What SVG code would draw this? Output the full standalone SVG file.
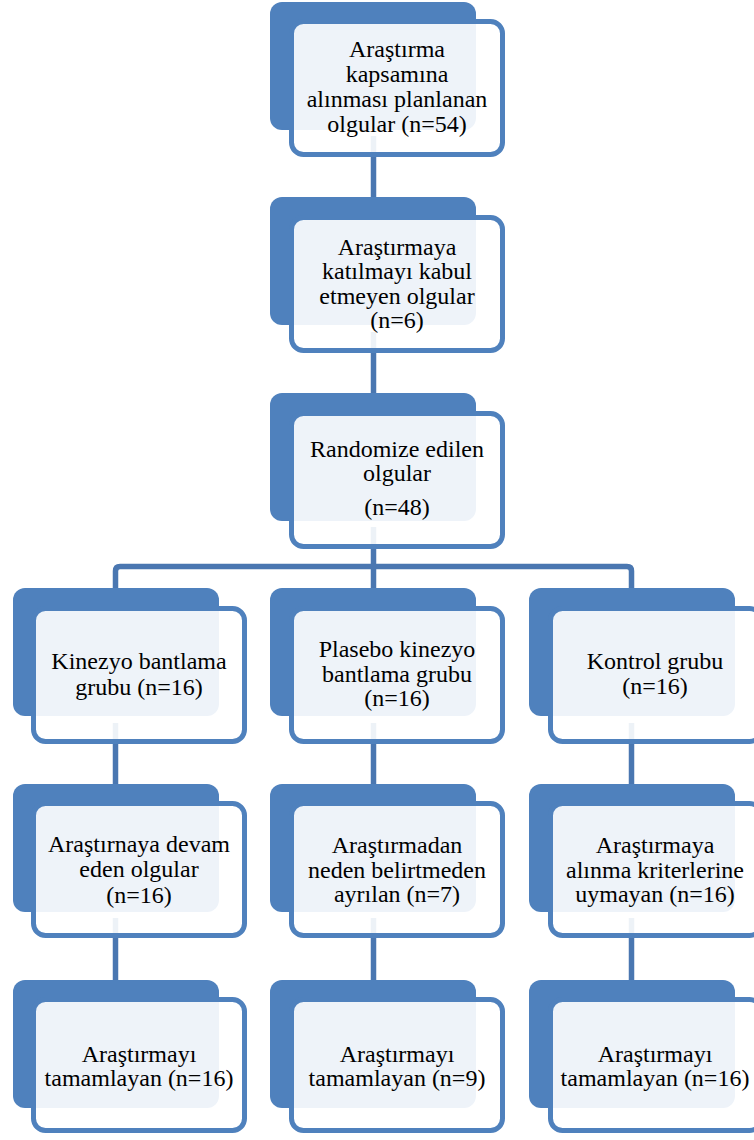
<svg xmlns="http://www.w3.org/2000/svg" width="754" height="1140" viewBox="0 0 754 1140">
<style>
.back{fill:#4F81BD;}
.front{fill:#FFFFFF;fill-opacity:0.9;stroke:#4F81BD;stroke-width:5;}
.conn{fill:none;stroke:#4A77B1;stroke-width:5.5;stroke-linejoin:round;}
.t{font-family:'Liberation Serif',serif;font-size:24px;fill:#000000;text-anchor:middle;}
</style>
<rect width="754" height="1140" fill="#FFFFFF"/>
<g id="connectors">
<path class="conn" d="M373.5,136 V197"/>
<path class="conn" d="M373.5,332 V393"/>
<path class="conn" d="M373.5,527 V588"/>
<path class="conn" d="M115.5,588 V571 Q115.5,566.5 120,566.5 H627 Q631.5,566.5 631.5,571 V588"/>
<path class="conn" d="M115.5,723 V784"/>
<path class="conn" d="M373.5,723 V784"/>
<path class="conn" d="M631.5,723 V784"/>
<path class="conn" d="M115.5,918 V980"/>
<path class="conn" d="M373.5,918 V980"/>
<path class="conn" d="M631.5,918 V980"/>
</g>
<g id="n1">
<rect class="back" x="270" y="2" width="206" height="128" rx="12"/>
<rect class="front" x="291.5" y="21.5" width="211" height="133" rx="12"/>
<g class="t">
<text x="397" y="57">Araştırma</text>
<text x="397" y="82">kapsamına</text>
<text x="397" y="107">alınması planlanan</text>
<text x="397" y="132">olgular (n=54)</text>
</g>
</g>
<g id="n2">
<rect class="back" x="270" y="197" width="206" height="128" rx="12"/>
<rect class="front" x="291.5" y="217.5" width="211" height="133" rx="12"/>
<g class="t">
<text x="397" y="255">Araştırmaya</text>
<text x="397" y="279">katılmayı kabul</text>
<text x="397" y="304">etmeyen olgular</text>
<text x="397" y="328">(n=6)</text>
</g>
</g>
<g id="n3">
<rect class="back" x="270" y="393" width="206" height="128" rx="12"/>
<rect class="front" x="291.5" y="413.5" width="211" height="133" rx="12"/>
<g class="t">
<text x="397" y="457">Randomize edilen</text>
<text x="397" y="481">olgular</text>
<text x="397" y="515">(n=48)</text>
</g>
</g>
<g id="n4a">
<rect class="back" x="13" y="588" width="206" height="128" rx="12"/>
<rect class="front" x="33.5" y="608.5" width="211" height="133" rx="12"/>
<g class="t">
<text x="139" y="669">Kinezyo bantlama</text>
<text x="139" y="695">grubu (n=16)</text>
</g>
</g>
<g id="n4b">
<rect class="back" x="270" y="588" width="206" height="128" rx="12"/>
<rect class="front" x="291.5" y="608.5" width="211" height="133" rx="12"/>
<g class="t">
<text x="397" y="657">Plasebo kinezyo</text>
<text x="397" y="682">bantlama grubu</text>
<text x="397" y="706">(n=16)</text>
</g>
</g>
<g id="n4c">
<rect class="back" x="529" y="588" width="206" height="128" rx="12"/>
<rect class="front" x="550.5" y="608.5" width="211" height="133" rx="12"/>
<g class="t">
<text x="655" y="669">Kontrol grubu</text>
<text x="655" y="694">(n=16)</text>
</g>
</g>
<g id="n5a">
<rect class="back" x="13" y="784" width="206" height="128" rx="12"/>
<rect class="front" x="33.5" y="803.5" width="211" height="132" rx="12"/>
<g class="t">
<text x="139" y="852">Araştırnaya devam</text>
<text x="139" y="877">eden olgular</text>
<text x="139" y="903">(n=16)</text>
</g>
</g>
<g id="n5b">
<rect class="back" x="270" y="784" width="206" height="128" rx="12"/>
<rect class="front" x="291.5" y="803.5" width="211" height="132" rx="12"/>
<g class="t">
<text x="397" y="853">Araştırmadan</text>
<text x="397" y="878">neden belirtmeden</text>
<text x="397" y="902">ayrılan (n=7)</text>
</g>
</g>
<g id="n5c">
<rect class="back" x="529" y="784" width="206" height="128" rx="12"/>
<rect class="front" x="550.5" y="803.5" width="211" height="132" rx="12"/>
<g class="t">
<text x="655" y="853">Araştırmaya</text>
<text x="655" y="878">alınma kriterlerine</text>
<text x="655" y="902">uymayan (n=16)</text>
</g>
</g>
<g id="n6a">
<rect class="back" x="13" y="980" width="206" height="128" rx="12"/>
<rect class="front" x="33.5" y="999.5" width="211" height="131" rx="12"/>
<g class="t">
<text x="139" y="1062">Araştırmayı</text>
<text x="139" y="1086">tamamlayan (n=16)</text>
</g>
</g>
<g id="n6b">
<rect class="back" x="270" y="980" width="206" height="128" rx="12"/>
<rect class="front" x="291.5" y="999.5" width="211" height="131" rx="12"/>
<g class="t">
<text x="397" y="1062">Araştırmayı</text>
<text x="397" y="1086">tamamlayan (n=9)</text>
</g>
</g>
<g id="n6c">
<rect class="back" x="529" y="980" width="206" height="128" rx="12"/>
<rect class="front" x="550.5" y="999.5" width="211" height="131" rx="12"/>
<g class="t">
<text x="655" y="1062">Araştırmayı</text>
<text x="655" y="1086">tamamlayan (n=16)</text>
</g>
</g>
</svg>
